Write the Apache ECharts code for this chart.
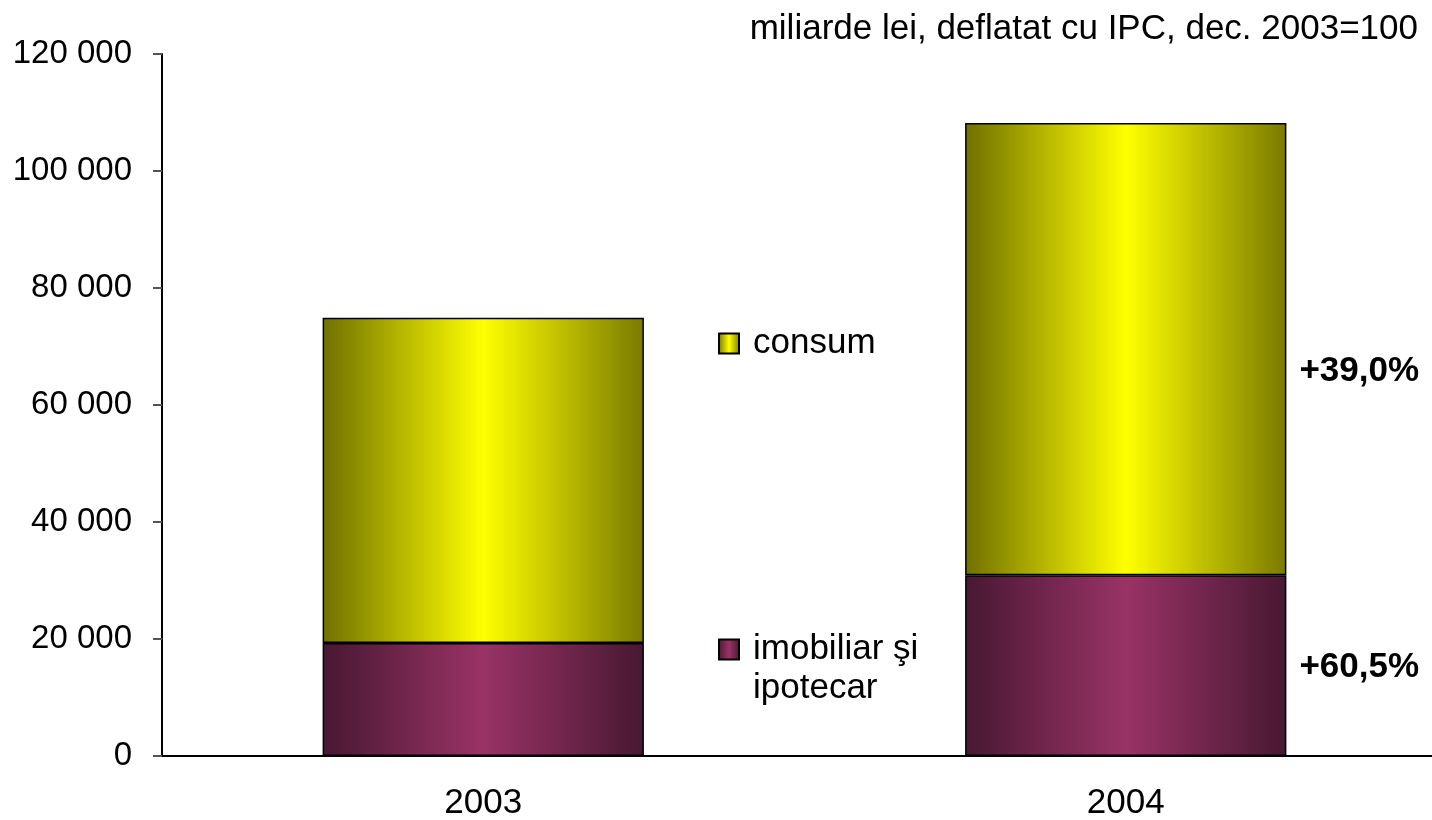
<!DOCTYPE html>
<html>
<head>
<meta charset="utf-8">
<script src="https://cdn.jsdelivr.net/npm/echarts@6/dist/echarts.min.js"></script>
<style>
  html, body { margin: 0; padding: 0; background: #fff; }
  #chart { width: 1432px; height: 820px; }
</style>
</head>
<body>
<div id="chart"></div>
<script>
// date (miliarde lei)
const years = ['2003', '2004']
const imobiliar = [19300, 30900]
const consum = [55600, 77300]
const growthLabels = ['+60,5%', '+39,0%']   // imobiliar, consum (2004)
const yTicks = [0, 20000, 40000, 60000, 80000, 100000, 120000]

const FONT = 'Liberation Sans, Arial, sans-serif'
const FS = 35

const chart = echarts.init(document.getElementById('chart'))

// gradient orizontal: margini inchise, centru luminos
const yellow = new echarts.graphic.LinearGradient(0, 0, 1, 0, [
  { offset: 0, color: '#707000' },
  { offset: 0.5, color: '#ffff00' },
  { offset: 1, color: '#7a7a00' }
])
const purple = new echarts.graphic.LinearGradient(0, 0, 1, 0, [
  { offset: 0, color: '#481832' },
  { offset: 0.5, color: '#993366' },
  { offset: 1, color: '#481832' }
])

const nameImob = 'imobiliar şi ipotecar'
const nameCons = 'consum'

const option = {
  animation: false,
  textStyle: { fontFamily: FONT },
  title: {
    text: 'miliarde lei, deflatat cu IPC, dec. 2003=100',
    right: 14,
    top: 12,
    padding: 0,
    textStyle: { fontFamily: FONT, fontSize: 35, fontWeight: 'normal', color: '#000' }
  },
  legend: [
    {
      data: [nameCons],
      left: 718,
      top: 324,
      padding: 0,
      itemWidth: 20,
      itemHeight: 20,
      icon: 'rect',
      selectedMode: false,
      textStyle: { fontFamily: FONT, fontSize: FS, color: '#000', lineHeight: 39, padding: [0, 0, 0, 9] }
    },
    {
      data: [nameImob],
      left: 718,
      top: 591,
      padding: 0,
      itemWidth: 20,
      itemHeight: 20,
      icon: 'rect',
      selectedMode: false,
      // linie goala sus ca prima linie sa stea in dreptul patratului
      formatter: () => ' \nimobiliar şi\nipotecar',
      textStyle: { fontFamily: FONT, fontSize: FS, color: '#000', lineHeight: 39, padding: [0, 0, 0, 9] }
    }
  ],
  // zona de desen iese putin in dreapta, ca in original
  grid: { left: 162, right: -15, top: 54, bottom: 64, containLabel: false, outerBoundsMode: 'none' },
  xAxis: {
    type: 'category',
    data: years,
    axisLine: { lineStyle: { color: '#000', width: 2 } },
    axisTick: { show: false },
    axisLabel: { fontFamily: FONT, fontSize: FS, color: '#000', margin: 30 }
  },
  yAxis: {
    type: 'value',
    min: yTicks[0],
    max: yTicks[yTicks.length - 1],
    interval: yTicks[1] - yTicks[0],
    axisLine: { show: true, lineStyle: { color: '#000', width: 2 } },
    axisTick: { show: true, length: 9, lineStyle: { color: '#555', width: 2 } },
    splitLine: { show: false },
    axisLabel: {
      fontFamily: FONT, fontSize: 33, color: '#000', margin: 30,
      formatter: v => String(v).replace(/\B(?=(\d{3})+(?!\d))/g, ' ')
    }
  },
  series: [
    {
      name: nameImob,
      type: 'bar',
      stack: 'total',
      barWidth: '50%',
      itemStyle: { color: purple, borderColor: '#000', borderWidth: 1.5 },
      data: imobiliar.map((v, i) => i === 1 ? {
        value: v,
        label: {
          show: true, position: 'right', distance: 13, offset: [0, 2],
          formatter: growthLabels[0],
          fontFamily: FONT, fontSize: FS, fontWeight: 'bold', color: '#000'
        }
      } : v)
    },
    {
      name: nameCons,
      type: 'bar',
      stack: 'total',
      barWidth: '50%',
      itemStyle: { color: yellow, borderColor: '#000', borderWidth: 1.5 },
      data: consum.map((v, i) => i === 1 ? {
        value: v,
        label: {
          show: true, position: 'right', distance: 13, offset: [0, 22],
          formatter: growthLabels[1],
          fontFamily: FONT, fontSize: FS, fontWeight: 'bold', color: '#000'
        }
      } : v)
    }
  ]
}

chart.setOption(option)
</script>
</body>
</html>
